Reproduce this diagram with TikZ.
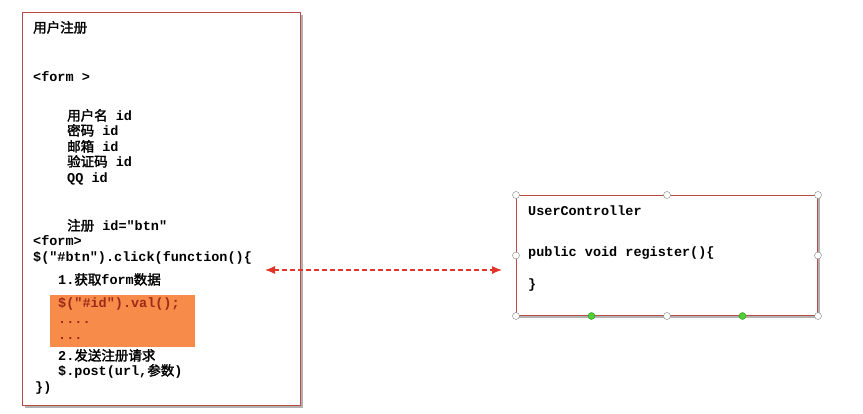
\documentclass[tikz,border=0pt]{standalone}
\usepackage{fontspec}
\setmonofont{Liberation Mono}
\newfontfamily\cjk[FakeBold=2]{Noto Sans CJK SC}
\newcommand\zh[1]{{\cjk\mdseries #1}}
\usetikzlibrary{positioning,arrows.meta,shadows,calc}

\definecolor{boxred}{HTML}{B84A47}
\definecolor{jsorange}{HTML}{F68B4A}
\definecolor{codered}{HTML}{A02818}
\definecolor{linkred}{HTML}{E2352A}
\definecolor{handle}{HTML}{808080}
\definecolor{grip}{HTML}{4CD134}

\tikzset{
  panel/.style={draw=boxred, line width=1pt, fill=white, inner sep=0pt, anchor=north west,
    drop shadow={shadow xshift=2.5pt, shadow yshift=-2.5pt, opacity=0.5, fill=black!60}},
  code/.style={anchor=west, inner sep=0pt, text height=10pt, text depth=3pt,
    font=\ttfamily\bfseries\fontsize{13.5}{15}\selectfont},
  knob/.style={circle, draw=handle, fill=white, inner sep=0pt, minimum size=7pt},
  greenknob/.style={circle, draw=grip!70!black, fill=grip, inner sep=0pt, minimum size=7pt},
  link/.style={{Latex[length=10pt,width=8pt]}-{Latex[length=10pt,width=8pt]}, linkred,
    dash pattern=on 5pt off 3pt, line width=1.2pt}
}

\begin{document}
\begin{tikzpicture}[x=1pt,y=-1pt]
\useasboundingbox (0,0) rectangle (863,413);

% registration page
\node[panel, minimum width=278pt, minimum height=393pt] (page) at (22,12) {};
\node[fill=jsorange, inner sep=0pt, anchor=north west, minimum width=145pt, minimum height=52pt] (valblock) at (50,295) {};

\node[code] (title) at (33,29) {\zh{用户注册}};
\node[code] (formopen) at (33,78) {<form >};
\node[code] (fname) at (67,117) {\zh{用户名} id};
\node[code] (fpwd) at (67,132) {\zh{密码} id};
\node[code] (fmail) at (67,148) {\zh{邮箱} id};
\node[code] (fcode) at (67,163) {\zh{验证码} id};
\node[code] (fqq) at (67,179) {QQ id};
\node[code] (fbtn) at (67,227) {\zh{注册} id="btn"};
\node[code] (formclose) at (33,242) {<form>};
\node[code] (click) at (33,258) {\$("\#btn").click(function()\{};
\node[code] (step1) at (58,281) {1.\zh{获取}form\zh{数据}};
\node[code, codered] (val) at (58,304) {\$("\#id").val();};
\node[code, codered] (dots1) at (58,320) {....};
\node[code, codered] (dots2) at (58,336) {...};
\node[code] (step2) at (58,357) {2.\zh{发送注册请求}};
\node[code] (post) at (58,372) {\$.post(url,\zh{参数})};
\node[code] (close) at (35,388) {\})};

% controller
\node[panel, minimum width=301pt, minimum height=120pt] (ctrl) at (516,195) {};
\node[code] (cname) at (528,212) {UserController};
\node[code] (method) at (528,253) {public void register()\{};
\node[code] (mend) at (528,285) {\}};

\foreach \a [count=\i] in {north west,north,north east,west,east,south west,south,south east}
  \node[knob] (knob\i) at (ctrl.\a) {};
\node[greenknob] (grip1) at ($(ctrl.south west)!0.25!(ctrl.south east)$) {};
\node[greenknob] (grip2) at ($(ctrl.south west)!0.75!(ctrl.south east)$) {};

% request link
\coordinate (jsend) at (265,270);
\coordinate (ctrlend) at (502,270);
\draw[link] (jsend) -- (ctrlend);
\end{tikzpicture}
\end{document}
